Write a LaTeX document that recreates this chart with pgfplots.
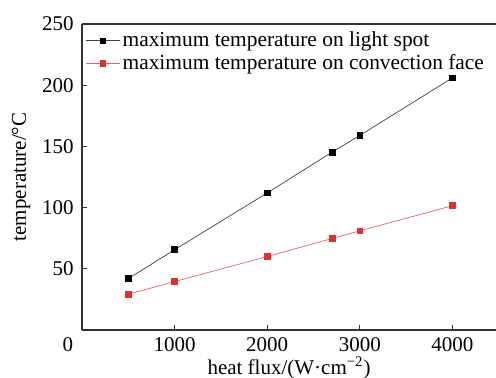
\documentclass[border=0pt]{standalone}
\usepackage{fontspec}
\setmainfont{Liberation Serif}
\usepackage{pgfplots}
\pgfplotsset{compat=1.18}
\definecolor{myred}{HTML}{E03030}
\begin{document}
\fontsize{10.5}{12}\selectfont
\begin{tikzpicture}
\begin{axis}[
  at={(0,0)}, anchor=south west,
  scale only axis,
  width=207pt, height=153pt,
  xmin=0, xmax=4470, ymin=0, ymax=250,
  axis x line=box, axis y line=left,
  axis line style={line width=0.55pt, draw=black!80, -},
  xtick={1000,2000,3000,4000},
  ytick={50,100,150,200,250},
  extra x ticks={0},
  extra x tick style={major tick length=0pt, xticklabel style={xshift=-7pt}},
  tick align=inside,
  major tick length=2.5pt,
  tick style={black!80, line width=0.45pt},
  xtick pos=bottom, ytick pos=left,
  /pgf/number format/assume math mode=true,
  /pgf/number format/1000 sep={},
  ticklabel style={font=\fontsize{10.5}{12}\selectfont},
  xticklabel style={yshift=0pt},
  yticklabel style={xshift=-0.5pt},
  xlabel={heat flux/(W·cm\textsuperscript{−2})},
  ylabel={temperature/°C},
  xlabel style={at={(axis description cs:0.5,-0.1438)}, anchor=base},
  ylabel style={at={(axis description cs:-0.1473,0.5)}, anchor=center},
  legend style={at={(axis description cs:0.0,1)}, anchor=north west, xshift=1pt, yshift=-2pt,
    draw=none, fill=none,
    font=\fontsize{10.7}{12}\selectfont, row sep=0pt, inner sep=0.5pt,
    nodes={inner sep=1.2pt}},
  legend cell align=left,
]
\addplot[black!75, line width=0.35pt, mark=square*, mark size=1.45pt,
  mark options={fill=black, draw=black, solid}]
  coordinates {(500,42) (1000,65.6) (2000,112) (2700,145.3) (3000,159) (4000,206)};
\addlegendentry{maximum temperature on light spot}
\addplot[myred!75, line width=0.35pt, mark=square*, mark size=1.45pt,
  mark options={fill=myred, draw=myred, solid}]
  coordinates {(500,29.3) (1000,39.6) (2000,60) (2700,74.8) (3000,81) (4000,101.6)};
\addlegendentry{maximum temperature on convection face}
\end{axis}
\pgfresetboundingbox
\path[use as bounding box] (-41pt,-23.5pt) rectangle (207pt,165pt);
\end{tikzpicture}
\end{document}
